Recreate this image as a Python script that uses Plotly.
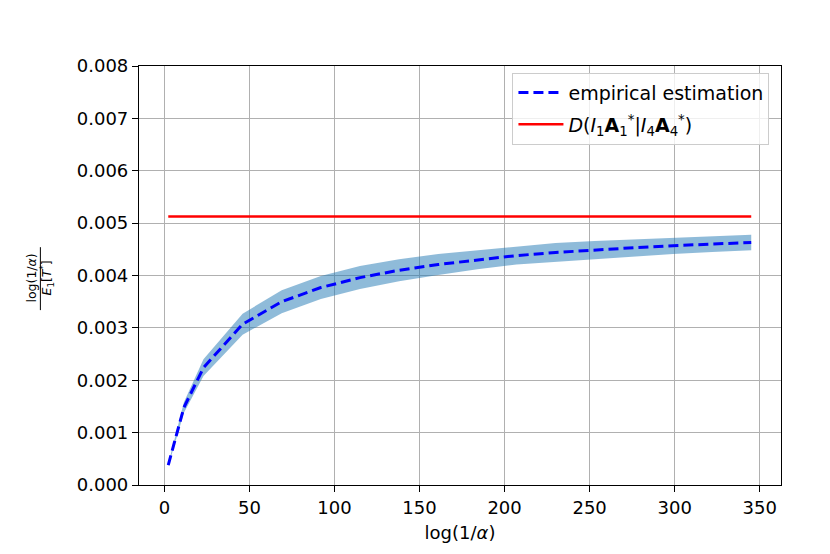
import plotly.graph_objects as go

# data
log_inv_alpha = [2.3, 11.5, 23, 46, 69, 92, 115, 138, 161, 184, 207, 230, 253, 276, 299, 322, 345]
empirical = [0.00038, 0.00148, 0.00224, 0.00307, 0.00350, 0.00377, 0.00396, 0.00410, 0.00421,
             0.00430, 0.00438, 0.00444, 0.00449, 0.00453, 0.00457, 0.00460, 0.00463]
spread = [0.00002, 0.00010, 0.00016, 0.00020, 0.00022, 0.00022, 0.00022, 0.00021, 0.00020,
          0.00018, 0.00017, 0.00018, 0.00017, 0.00016, 0.00016, 0.00015, 0.00015]
divergence = 0.005127
x_ticks = [0, 50, 100, 150, 200, 250, 300, 350]
y_ticks = [0.000, 0.001, 0.002, 0.003, 0.004, 0.005, 0.006, 0.007, 0.008]

upper = [m + s for m, s in zip(empirical, spread)]
lower = [m - s for m, s in zip(empirical, spread)]

FONT = "DejaVu Sans"
fig = go.Figure()
fig.add_trace(go.Scatter(x=log_inv_alpha, y=lower, mode="lines", line=dict(width=0),
                         showlegend=False, hoverinfo="skip", legendgroup="z"))
fig.add_trace(go.Scatter(x=log_inv_alpha, y=upper, mode="lines", line=dict(width=0),
                         fill="tonexty", fillcolor="rgba(31,119,180,0.5)",
                         showlegend=False, hoverinfo="skip", legendgroup="z"))
fig.add_trace(go.Scatter(x=log_inv_alpha, y=empirical, mode="lines",
                         line=dict(color="blue", width=3, dash="10px,5px"),
                         name="empirical estimation", legendgroup="a"))
fig.add_trace(go.Scatter(x=[log_inv_alpha[0], log_inv_alpha[-1]], y=[divergence, divergence],
                         mode="lines", line=dict(color="red", width=2.5), legendgroup="b",
                         name="<i>D</i>(<i>I</i><sub>1</sub><b>A</b><sub>1</sub><sup>*</sup>|<i>I</i><sub>4</sub><b>A</b><sub>4</sub><sup>*</sup>)"))

axis_common = dict(showgrid=True, gridcolor="#b0b0b0", gridwidth=1, showline=True,
                   linecolor="black", linewidth=1.2, mirror=True, ticks="outside",
                   ticklen=6, tickcolor="black", zeroline=False,
                   tickfont=dict(family=FONT, size=18, color="black"))
fig.update_xaxes(range=[-14.9, 362.5], tickvals=x_ticks,
                 title=dict(text="log(1/<i>α</i>)", font=dict(family=FONT, size=18, color="black"),
                            standoff=9),
                 **axis_common)
fig.update_yaxes(range=[0, 0.008], tickvals=y_ticks, tickformat=".3f", **axis_common)

fig.add_annotation(xref="paper", yref="paper", x=-0.1676, y=0.4937, text="log(1/<i>α</i>)",
                   xanchor="center", yanchor="middle",
                   textangle=-90, showarrow=False, font=dict(family=FONT, size=12.5, color="black"))
fig.add_annotation(xref="paper", yref="paper", x=-0.1427, y=0.4937,
                   text="<i>E</i><sub>1</sub>[<i>T</i><sup>*</sup>]",
                   xanchor="center", yanchor="middle",
                   textangle=-90, showarrow=False, font=dict(family=FONT, size=12.5, color="black"))
fig.add_shape(type="line", xref="paper", yref="paper", x0=-0.1536, x1=-0.1536,
              y0=0.4174, y1=0.5676, line=dict(color="black", width=1))

fig.update_layout(
    width=830, height=554,
    margin=dict(l=139, r=49, t=66, b=69),
    paper_bgcolor="white", plot_bgcolor="white",
    font=dict(family=FONT, size=18, color="black"),
    legend=dict(x=0.982, y=0.984, xanchor="right", yanchor="top", traceorder="grouped",
                bgcolor="rgba(255,255,255,0.8)", bordercolor="#cccccc", borderwidth=1,
                itemwidth=45, tracegroupgap=4,
                font=dict(family=FONT, size=19, color="black")),
)
fig.write_html("out.html", config={"displayModeBar": False},
               post_script="document.body.style.margin='0px';")
